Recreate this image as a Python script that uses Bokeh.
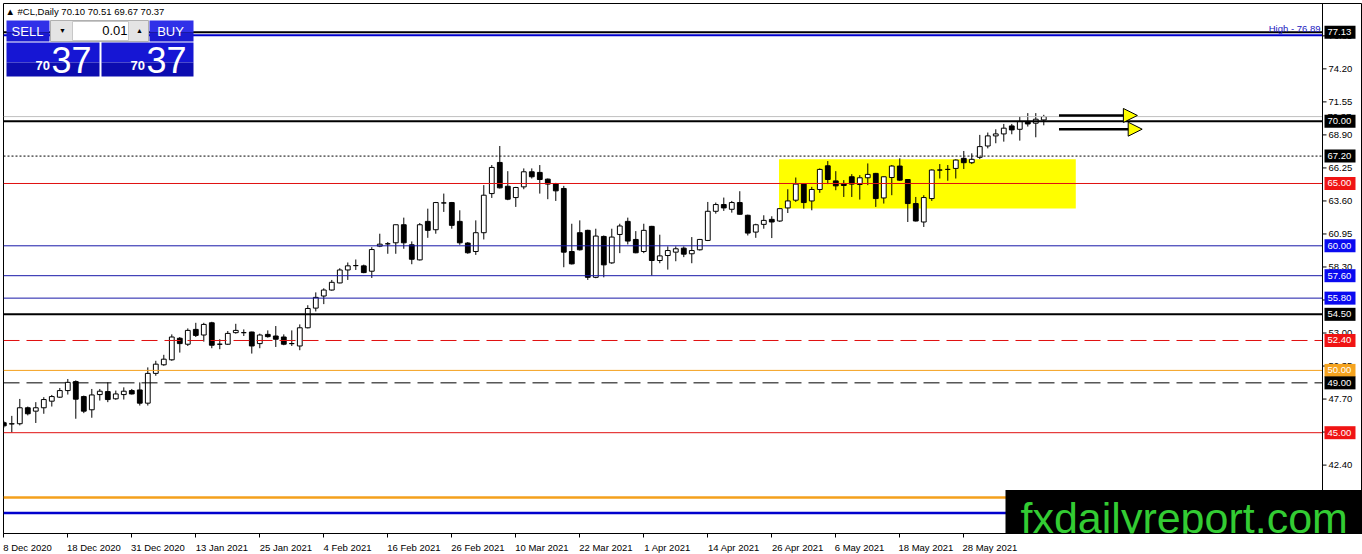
from bokeh.plotting import figure
from bokeh.models import (ColumnDataSource, Range1d, FixedTicker, Span, Label,
                          BoxAnnotation, Arrow, NormalHead)
from bokeh.core.properties import value
from bokeh.embed import file_html
from bokeh.resources import INLINE

FONT = "Liberation Sans"
LBL = "9.5px"

# #CL daily candles, 8 Dec 2020 .. mid Jun 2021
opens = [45.80, 45.70, 45.72, 47.00, 46.73, 47.00, 47.53, 47.85, 48.38, 49.10,
         47.90, 46.84, 48.06, 48.30, 47.72, 48.06, 48.38, 48.43, 47.37, 49.76,
         50.45, 50.85, 52.58, 52.10, 53.29, 52.84, 53.82, 52.10, 52.10, 53.03,
         53.03, 53.08, 52.15, 52.89, 52.76, 52.68, 52.15, 51.96, 53.42, 55.00,
         55.97, 56.45, 57.02, 58.06, 58.41, 58.39, 57.96, 59.97, 60.16, 60.24,
         61.69, 60.08, 58.87, 61.96, 61.29, 63.44, 63.47, 61.96, 60.22, 59.54,
         61.05, 64.19, 66.69, 64.78, 63.87, 64.73, 65.94, 65.89, 65.35, 64.97,
         64.60, 59.54, 61.05, 61.24, 57.47, 60.75, 58.63, 60.91, 61.96, 60.51,
         59.54, 61.56, 58.82, 59.22, 59.49, 59.81, 59.36, 59.68, 60.43, 62.77,
         63.31, 62.93, 63.47, 62.45, 61.10, 61.72, 62.12, 61.99, 63.04, 63.66,
         64.95, 63.60, 64.52, 66.42, 65.21, 65.00, 65.54, 64.92, 65.46, 65.81,
         63.84, 65.48, 66.40, 65.32, 63.39, 61.91, 63.79, 66.08, 66.13, 66.21,
         67.02, 66.67, 67.10, 68.01, 68.82, 68.98, 69.62, 69.35, 69.97, 69.84,
         70.10]
highs = [45.95, 46.35, 47.71, 47.10, 47.45, 47.85, 48.03, 48.59, 49.31, 49.20,
         47.98, 48.51, 48.51, 49.04, 48.38, 48.64, 48.51, 49.04, 50.24, 50.77,
         51.25, 52.89, 52.68, 53.37, 53.82, 53.82, 53.90, 52.50, 53.16, 53.74,
         53.29, 53.11, 52.95, 53.21, 53.56, 52.89, 53.21, 53.69, 55.23, 56.26,
         56.59, 57.26, 58.20, 58.66, 58.90, 58.49, 59.89, 60.97, 60.30, 61.69,
         62.26, 60.35, 61.83, 62.98, 63.52, 64.19, 63.52, 62.85, 60.30, 62.04,
         64.87, 66.48, 68.01, 65.99, 64.73, 66.21, 66.21, 66.48, 65.40, 65.05,
         64.81, 61.77, 62.04, 61.29, 61.37, 60.83, 61.37, 61.77, 62.26, 61.18,
         61.77, 61.60, 60.89, 59.95, 59.95, 59.95, 60.70, 60.55, 63.52, 63.47,
         63.87, 63.60, 64.38, 62.50, 61.77, 62.45, 62.37, 63.00, 64.54, 65.48,
         65.00, 64.73, 66.21, 66.80, 65.99, 65.27, 65.75, 65.67, 66.61, 65.85,
         65.56, 66.48, 67.02, 65.35, 63.92, 64.06, 66.13, 66.56, 66.48, 66.94,
         67.61, 67.42, 68.90, 69.09, 69.35, 69.78, 69.78, 70.38, 70.65, 70.65,
         70.51]
lows = [45.40, 45.02, 45.59, 46.39, 45.78, 46.52, 47.10, 47.79, 48.06, 46.12,
        46.57, 46.20, 47.58, 47.45, 47.64, 47.66, 48.06, 47.18, 47.18, 49.57,
        50.37, 50.77, 51.43, 51.96, 52.68, 52.31, 51.78, 51.70, 52.04, 52.95,
        52.76, 51.35, 51.78, 52.63, 51.88, 52.02, 51.96, 51.62, 53.37, 54.73,
        55.32, 56.40, 56.99, 57.26, 58.06, 57.80, 57.42, 59.89, 59.36, 59.36,
        59.76, 58.52, 58.82, 60.64, 60.97, 62.72, 61.37, 60.08, 59.36, 59.27,
        60.51, 63.84, 64.60, 63.66, 63.12, 64.54, 65.40, 64.19, 63.74, 63.60,
        58.28, 58.50, 59.62, 57.26, 57.40, 57.47, 58.55, 59.41, 60.11, 59.40,
        59.41, 57.61, 58.60, 58.09, 58.76, 59.09, 58.60, 59.62, 60.38, 62.58,
        62.80, 62.66, 62.50, 60.83, 60.64, 61.37, 60.62, 61.91, 62.63, 63.52,
        62.98, 62.85, 64.25, 64.95, 64.46, 63.92, 63.92, 63.71, 64.87, 63.12,
        63.39, 64.06, 65.22, 61.91, 61.95, 61.51, 63.60, 65.40, 65.22, 65.40,
        66.16, 66.56, 66.96, 67.82, 68.23, 68.36, 68.95, 68.44, 69.57, 68.71,
        69.67]
closes = [45.55, 45.72, 47.00, 46.52, 47.00, 47.66, 47.90, 48.38, 49.04, 47.69,
          46.73, 48.03, 48.33, 47.66, 48.11, 48.33, 48.11, 47.37, 49.76, 50.50,
          50.90, 52.68, 52.15, 53.21, 52.81, 53.69, 52.02, 52.10, 52.97, 53.21,
          53.03, 51.96, 52.84, 52.71, 52.50, 52.10, 52.15, 53.42, 54.97, 55.86,
          56.45, 57.07, 58.06, 58.39, 58.41, 57.85, 59.70, 60.13, 60.16, 61.69,
          60.24, 58.92, 61.69, 61.24, 63.47, 63.44, 61.64, 60.24, 59.44, 61.05,
          64.06, 66.29, 64.65, 63.74, 64.68, 65.94, 65.54, 65.32, 64.95, 64.41,
          59.49, 58.55, 59.68, 57.47, 60.78, 58.47, 60.70, 61.59, 60.38, 59.44,
          61.24, 58.82, 59.19, 59.62, 59.76, 59.33, 59.62, 60.51, 62.77, 63.31,
          63.04, 63.47, 62.53, 61.02, 61.69, 62.04, 61.91, 62.98, 63.60, 64.95,
          63.47, 64.52, 66.13, 65.32, 64.81, 64.84, 64.95, 65.46, 65.73, 63.79,
          65.54, 66.40, 65.27, 63.39, 61.99, 63.87, 66.08, 66.08, 66.13, 66.88,
          66.67, 66.94, 67.96, 68.82, 68.98, 69.44, 69.30, 69.97, 69.78, 70.16,
          70.37]
bars = list(range(len(opens)))

date_bars = [0, 8, 16, 24, 32, 40, 48, 56, 64, 72, 80, 88, 96, 104, 112, 120]
date_labels = ["8 Dec 2020", "18 Dec 2020", "31 Dec 2020", "13 Jan 2021", "25 Jan 2021",
               "4 Feb 2021", "16 Feb 2021", "26 Feb 2021", "10 Mar 2021", "22 Mar 2021",
               "1 Apr 2021", "14 Apr 2021", "26 Apr 2021", "6 May 2021", "18 May 2021",
               "28 May 2021"]

price_ticks = [39.75, 42.40, 45.05, 47.70, 50.35, 53.00, 55.65, 58.30, 60.95,
               63.60, 66.25, 68.90, 71.55, 74.20, 76.85]

# horizontal levels drawn on the chart
level_prices = [77.13, 76.89, 70.37, 70.00, 67.20, 65.00, 60.00, 57.60, 55.80,
                54.50, 52.40, 50.00, 49.00, 45.00, 39.80, 38.55]
level_colors = ["black", "#0000cd", "#c0c0c0", "black", "black", "#e01010", "#1818a8",
                "#1818a8", "#1818a8", "black", "#e01010", "#f4a01c", "black", "#e01010",
                "#f4a01c", "#0000cd"]
level_widths = [2, 2, 1, 2, 1, 1, 1, 1, 1, 2, 1, 1, 1, 1, 2.5, 2.5]
level_dashes = ["solid", "solid", "solid", "solid", "2 2", "solid", "solid", "solid",
                "solid", "solid", "16 7", "solid", "16 7", "solid", "solid", "solid"]

# price tags on the right scale
tag_prices = [77.13, 70.00, 67.20, 65.00, 60.00, 57.60, 55.80, 54.50, 52.40, 50.00, 49.00, 45.00]
tag_colors = ["black", "black", "black", "#f01414", "#0a0af0", "#0a0af0", "#0a0af0",
              "black", "#f01414", "#f5a31f", "black", "#f01414"]

zone_left, zone_right = 96.9, 134.0
zone_bottom, zone_top = 63.0, 66.95

arrow_x0 = [131.9, 131.9]
arrow_x1 = [141.7, 142.3]
arrow_y = [70.46, 69.36]

ohlc_text = "70.10 70.51 69.67 70.37"
bid_price = 70.37
high_price = 76.89

# frame: pixels 3..1362 across, 3..533 down (the price scale sits inside it)
FL, FT, FW, FH = 3, 3, 1359, 530
X0, X1 = -0.0375, 169.84
Y0, Y1 = 36.91, 79.446
SCALE_PX = 1322


def dx(px):
    return X0 + (px - FL) * (X1 - X0) / FW


def dy(py):
    return Y1 - (py - FT) * (Y1 - Y0) / FH


PPY = FH / (Y1 - Y0)
edge = dx(SCALE_PX)

p = figure(frame_width=FW, frame_height=FH, x_range=Range1d(X0, X1), y_range=Range1d(Y0, Y1),
           title=None, output_backend="svg", toolbar_location=None, y_axis_location=None,
           min_border_left=FL, min_border_top=FT, min_border_right=0, min_border_bottom=21,
           background_fill_color="white", border_fill_color="white")
p.outline_line_color = "black"
p.grid.visible = False

# zone
p.add_layout(BoxAnnotation(left=zone_left, right=zone_right, bottom=zone_bottom, top=zone_top,
                           fill_color="#ffff00", fill_alpha=1.0, line_color=None, level="underlay"))

# candles
src = ColumnDataSource(dict(
    x=bars, high=highs, low=lows,
    top=[max(o, c) for o, c in zip(opens, closes)],
    bottom=[min(o, c) for o, c in zip(opens, closes)],
    fill=["white" if c >= o else "black" for o, c in zip(opens, closes)],
))
p.segment(x0="x", y0="high", x1="x", y1="low", source=src, line_color="black", line_width=1)
p.vbar(x="x", width=0.6, top="top", bottom="bottom", source=src,
       fill_color="fill", line_color="black", line_width=1)

# levels stop at the price scale
for price, col, w, dash in zip(level_prices, level_colors, level_widths, level_dashes):
    p.segment(x0=[X0], y0=[price], x1=[edge], y1=[price], line_color=col,
              line_width=w, line_dash=dash)

for x0, x1, y in zip(arrow_x0, arrow_x1, arrow_y):
    p.add_layout(Arrow(x_start=x0, y_start=y, x_end=x1, y_end=y, line_color="black", line_width=2.5,
                       end=NormalHead(size=14, fill_color="#ffff00", line_color="black", line_width=1)))

# price scale
p.add_layout(Span(location=edge, dimension="height", line_color="black", line_width=1))
p.segment(x0=[edge] * len(price_ticks), y0=price_ticks, x1=[dx(SCALE_PX + 4)] * len(price_ticks),
          y1=price_ticks, line_color="black", line_width=1)
p.text(x=[dx(SCALE_PX + 6)] * len(price_ticks), y=price_ticks, text=["%.2f" % v for v in price_ticks],
       text_font=value(FONT), text_font_size=LBL, text_color="black", text_baseline="middle")
p.text(x=[dx(SCALE_PX + 5)], y=[bid_price], text=["%.2f" % bid_price],
       text_font=value(FONT), text_font_size=LBL, text_color="black", text_baseline="middle")
half = 6.5 / PPY
p.quad(left=[dx(SCALE_PX + 2)] * len(tag_prices), right=[dx(SCALE_PX + 33)] * len(tag_prices),
       top=[v + half for v in tag_prices], bottom=[v - half for v in tag_prices],
       fill_color=tag_colors, line_color=None)
p.text(x=[dx(SCALE_PX + 5)] * len(tag_prices), y=tag_prices, text=["%.2f" % v for v in tag_prices],
       text_font=value(FONT), text_font_size=LBL, text_color="white", text_baseline="middle")

# date axis: labels start at the bar, ticks on the bar
ppb = FW / (X1 - X0)
centers = [round(b + 4.75 * len(s) / 2 / ppb, 3) for b, s in zip(date_bars, date_labels)]
xa = p.xaxis[0]
xa.ticker = FixedTicker(ticks=centers, minor_ticks=date_bars)
xa.major_label_overrides = {c: s for c, s in zip(centers, date_labels)}
xa.major_tick_line_color = None
xa.major_tick_out = 0
xa.major_tick_in = 0
xa.minor_tick_out = 4
xa.minor_tick_in = 0
xa.minor_tick_line_color = "black"
xa.major_label_standoff = 4
xa.major_label_text_font = FONT
xa.major_label_text_font_size = LBL
xa.major_label_text_color = "black"
xa.axis_line_color = "black"

# high label
p.add_layout(Label(x=dx(SCALE_PX - 2), y=dy(28), text="High - %.2f" % high_price, text_align="right",
                   text_baseline="middle", text_color="#2020c0", text_font=FONT, text_font_size=LBL))


# one-click trading panel (pixels)
def box(l, r, t, b, fill, line=None):
    p.add_layout(BoxAnnotation(left=dx(l), right=dx(r), top=dy(t), bottom=dy(b),
                               fill_color=fill, fill_alpha=1.0, line_color=line,
                               line_alpha=1.0, level="overlay"))


def txt(x, y, s, size, color="white", align="left", style="normal"):
    p.add_layout(Label(x=dx(x), y=dy(y), text=s, text_font=FONT, text_font_size=size,
                       text_color=color, text_align=align, text_baseline="middle",
                       text_font_style=style, level="overlay"))


box(6, 49, 20, 32, "#3030e8")
box(6, 49, 32, 41, "#1a1ad0")
box(149, 193, 20, 32, "#3030e8")
box(149, 193, 32, 41, "#1a1ad0")
box(50, 148, 20, 41, "#e4e4e4", "#b0b0b0")
box(72, 128, 21, 40, "white", "#c8c8c8")
box(6, 99, 42, 62, "#1616d4")
box(6, 99, 62, 76, "#0c0cb0")
box(101, 193, 42, 62, "#1616d4")
box(101, 193, 62, 76, "#0c0cb0")

txt(27, 31, "SELL", "13px", align="center")
txt(170, 31, "BUY", "13px", align="center")
txt(127, 30, "0.01", "13px", color="black", align="right")
txt(62, 30, "\u25bc", "7px", color="black", align="center")
txt(139, 30, "\u25b2", "7px", color="black", align="center")
txt(35, 65, "70", "13px", style="bold")
txt(51, 59, "37", "36px")
txt(130, 65, "70", "13px", style="bold")
txt(146, 59, "37", "36px")

txt(5, 11, "\u25b2 #CL,Daily  " + ohlc_text, LBL, color="black")

# watermark
p.add_layout(Label(x=dx(1005), y=dy(522.5), text="fxdailyreport.com", text_font=FONT,
                   text_font_size="43px", text_color="#33cc33", text_baseline="middle",
                   background_fill_color="black", padding=(15, 30, 4, 14), level="overlay"))

open("out.html", "w").write(file_html(p, INLINE))
